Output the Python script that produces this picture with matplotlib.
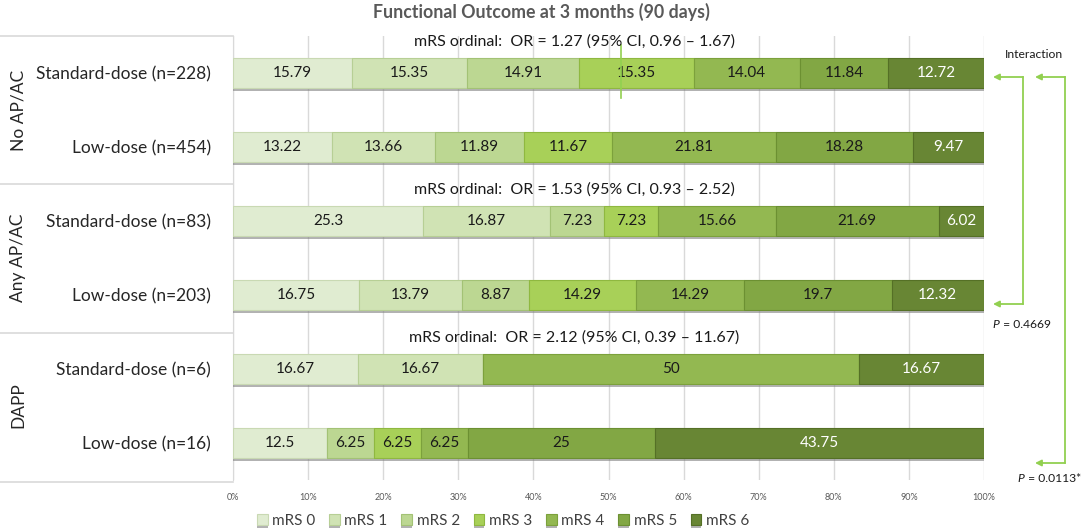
import matplotlib
matplotlib.use("Agg")
import matplotlib.pyplot as plt
import matplotlib.patheffects as pe
from matplotlib.ticker import PercentFormatter

plt.rcParams['font.family'] = ['Lato', 'DejaVu Sans']

# datos
filas = ['Standard-dose (n=228)', 'Low-dose (n=454)',
         'Standard-dose (n=83)', 'Low-dose (n=203)',
         'Standard-dose (n=6)', 'Low-dose (n=16)']
grupos = ['No AP/AC', 'Any AP/AC', 'DAPP']
categorias = ['mRS 0', 'mRS 1', 'mRS 2', 'mRS 3', 'mRS 4', 'mRS 5', 'mRS 6']
valores = [
    [15.79, 15.35, 14.91, 15.35, 14.04, 11.84, 12.72],
    [13.22, 13.66, 11.89, 11.67, 21.81, 18.28, 9.47],
    [25.3, 16.87, 7.23, 7.23, 15.66, 21.69, 6.02],
    [16.75, 13.79, 8.87, 14.29, 14.29, 19.7, 12.32],
    [16.67, 16.67, 0, 0, 50, 0, 16.67],
    [12.5, 0, 6.25, 6.25, 6.25, 25, 43.75],
]
or_textos = ['mRS ordinal:  OR = 1.27 (95% CI, 0.96 \u2013 1.67)',
             'mRS ordinal:  OR = 1.53 (95% CI, 0.93 \u2013 2.52)',
             'mRS ordinal:  OR = 2.12 (95% CI, 0.39 \u2013 11.67)']
p_valores = ['0.4669', '0.0113*']

colores = ['#e0ecd1', '#d0e3b4', '#bcd792', '#a8d058', '#93b851', '#82a744', '#688634']
borde = ['#c9d9b3', '#b7cf95', '#a3c275', '#8fb840', '#7ca13c', '#6c9032', '#557026']

W, H = 1084, 528
fig = plt.figure(figsize=(W / 100, H / 100), dpi=100)
ax = fig.add_axes([233 / W, 1 - 480 / H, (984 - 233) / W, (480 - 36) / H])

ypos = [i + 0.5 for i in range(len(filas))]
sombra = [pe.SimplePatchShadow(offset=(0, -2.5), shadow_rgbFace='#808080', alpha=0.6), pe.Normal()]

izq = [0] * len(filas)
for j, cat in enumerate(categorias):
    anchos = [v[j] / 100 for v in valores]
    barras = ax.barh(ypos, anchos, left=[l / 100 for l in izq], height=0.4,
                     color=colores[j], edgecolor=borde[j], linewidth=0.8,
                     label=cat, zorder=3)
    for b in barras:
        b.set_path_effects(sombra)
    for i, v in enumerate(valores):
        if v[j] > 0:
            txt = ('%g' % v[j])
            ax.text((izq[i] + v[j] / 2) / 100, ypos[i], txt, ha='center', va='center',
                    fontsize=11, color='white' if j == 6 else '#1a1a1a', zorder=4)
        izq[i] += v[j]

ax.set_xlim(0, 1)
ax.set_ylim(6, 0)
ax.set_xticks([i / 10 for i in range(11)])
ax.xaxis.set_major_formatter(PercentFormatter(1.0, decimals=0))
ax.tick_params(axis='x', length=0, labelsize=6.5, labelcolor='#595959', pad=9)
ax.set_yticks(ypos)
ax.set_yticklabels(filas, fontsize=12.5, color='#262626')
ax.tick_params(axis='y', length=0, pad=16)
ax.grid(axis='x', color='#d9d9d9', linewidth=1, zorder=0)
for s in ['top', 'right', 'bottom']:
    ax.spines[s].set_visible(False)
ax.spines['left'].set_color('#d9d9d9')

# capa para anotaciones en pixeles
ov = fig.add_axes([0, 0, 1, 1])
ov.set_xlim(0, W)
ov.set_ylim(H, 0)
ov.axis('off')
ov.patch.set_alpha(0)

ov.text(541, 12, 'Functional Outcome at 3 months (90 days)', ha='center', va='center',
        fontsize=12.8, fontweight='bold', color='#595959')

# panel izquierdo
for y in [36, 184, 333, 482]:
    ov.plot([0, 233], [y, y], color='#d9d9d9', linewidth=1.2)
for g, y in zip(grupos, [110, 258, 405]):
    ov.text(18, y, g, rotation=90, ha='center', va='center', fontsize=12.5, color='#262626')

for t, y in zip(or_textos, [42, 190, 338]):
    ov.text(574, y, t, ha='center', va='center', fontsize=11.5, color='#1a1a1a')

verde = '#92d050'
ov.plot([621, 621], [45, 98], color=verde, linewidth=1.2)

# flechas de interaccion
ov.text(1034, 55, 'Interaction', ha='center', va='center', fontsize=8.7, color='#1a1a1a')
ov.plot([1023, 1023], [77, 304], color=verde, linewidth=1.3)
ov.plot([1065, 1065], [77, 463], color=verde, linewidth=1.3)
for x0, x1, y in [(1023, 993, 77), (1023, 993, 304), (1065, 1035, 77), (1065, 1035, 463)]:
    ov.annotate('', xy=(x1, y), xytext=(x0, y),
                arrowprops=dict(arrowstyle='-|>', color=verde, lw=1.3,
                                mutation_scale=9, shrinkA=0, shrinkB=0))
for x, y, p in [(992, 324, p_valores[0]), (1017, 479, p_valores[1])]:
    ov.text(x, y, 'P', ha='left', va='center', fontsize=8.7, style='italic', color='#1a1a1a')
    ov.text(x + 8, y, ' = ' + p, ha='left', va='center', fontsize=8.7, color='#1a1a1a')

# leyenda
ax.legend(loc='center', bbox_to_anchor=(503 / W, 7 / H), bbox_transform=fig.transFigure,
          ncol=7, frameon=False, fontsize=11, handlelength=0.7, handleheight=0.7,
          handletextpad=0.3, columnspacing=0.9, labelcolor='#404040',
          borderaxespad=0, borderpad=0)

fig.savefig('out.png', dpi=100)
